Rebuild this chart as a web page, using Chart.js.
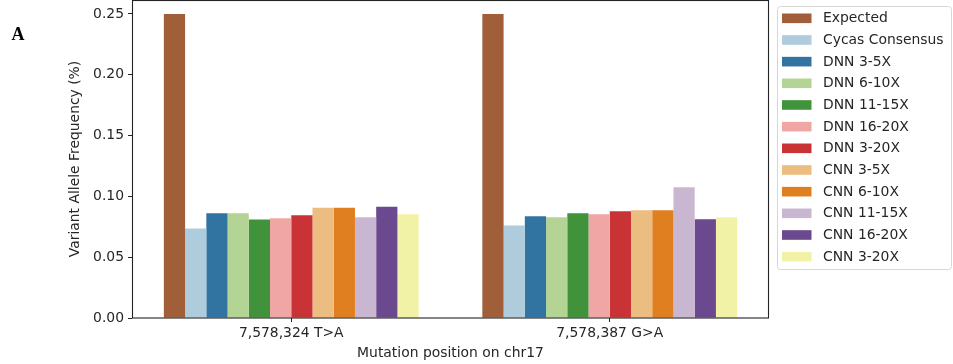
<!DOCTYPE html>
<html>
<head>
<meta charset="utf-8">
<script src="https://cdn.jsdelivr.net/npm/chart.js@4.4.1/dist/chart.umd.min.js"></script>
<style>
  html, body { margin: 0; padding: 0; background: #ffffff; }
  canvas { display: block; }
</style>
</head>
<body>
<canvas id="vafChart" width="953" height="364"></canvas>
<script>
// Mutation sites on chr17
const mutations = ['7,578,324 T>A', '7,578,387 G>A'];

// Caller / depth groups, in legend order
const seriesNames = [
  'Expected', 'Cycas Consensus',
  'DNN 3-5X', 'DNN 6-10X', 'DNN 11-15X', 'DNN 16-20X', 'DNN 3-20X',
  'CNN 3-5X', 'CNN 6-10X', 'CNN 11-15X', 'CNN 16-20X', 'CNN 3-20X'
];

// Variant allele frequency per mutation site
const expected       = [0.2500, 0.2500];
const cycasConsensus = [0.0736, 0.0760];
const dnn3to5        = [0.0862, 0.0837];
const dnn6to10       = [0.0862, 0.0829];
const dnn11to15      = [0.0810, 0.0862];
const dnn16to20      = [0.0821, 0.0854];
const dnn3to20       = [0.0845, 0.0878];
const cnn3to5        = [0.0906, 0.0887];
const cnn6to10       = [0.0906, 0.0887];
const cnn11to15      = [0.0829, 0.1076];
const cnn16to20      = [0.0914, 0.0812];
const cnn3to20       = [0.0854, 0.0829];

// Y axis tick values
const yTicks = [0.00, 0.05, 0.10, 0.15, 0.20, 0.25];

const seriesValues = [
  expected, cycasConsensus,
  dnn3to5, dnn6to10, dnn11to15, dnn16to20, dnn3to20,
  cnn3to5, cnn6to10, cnn11to15, cnn16to20, cnn3to20
];

// Desaturated "Paired" palette
const seriesColors = [
  '#a05e39', '#aeccdb', '#3274a1', '#b3d495', '#40923b', '#efa6a5',
  '#ca3335', '#ebbd81', '#df7f20', '#c9b7d2', '#6a498e', '#f2f2a6'
];

const FONT = 'DejaVu Sans';
const INK = '#262626';

// Axes frame (all four spines)
const framePlugin = {
  id: 'frame',
  afterDatasetsDraw(chart) {
    const { ctx, chartArea: a } = chart;
    ctx.save();
    ctx.strokeStyle = '#222222';
    ctx.lineWidth = 1.1;
    ctx.strokeRect(Math.round(a.left) + 0.5, Math.round(a.top) + 0.5,
                   Math.round(a.right - a.left) - 1, Math.round(a.bottom - a.top) - 0.5);
    ctx.restore();
  }
};

// Framed legend box to the right of the axes, built from the datasets
const boxedLegendPlugin = {
  id: 'boxedLegend',
  afterDraw(chart) {
    const { ctx } = chart;
    const boxX = 777.5, boxY = 6.5, boxW = 174, boxH = 263, r = 3;
    ctx.save();
    ctx.beginPath();
    ctx.moveTo(boxX + r, boxY);
    ctx.arcTo(boxX + boxW, boxY, boxX + boxW, boxY + boxH, r);
    ctx.arcTo(boxX + boxW, boxY + boxH, boxX, boxY + boxH, r);
    ctx.arcTo(boxX, boxY + boxH, boxX, boxY, r);
    ctx.arcTo(boxX, boxY, boxX + boxW, boxY, r);
    ctx.closePath();
    ctx.fillStyle = 'rgba(255,255,255,0.8)';
    ctx.fill();
    ctx.strokeStyle = '#d6d6d6';
    ctx.lineWidth = 1;
    ctx.stroke();

    ctx.font = '13.9px "' + FONT + '"';
    ctx.textBaseline = 'middle';
    ctx.textAlign = 'left';
    chart.data.datasets.forEach((ds, i) => {
      const cy = 18.3 + i * 21.67;
      ctx.fillStyle = ds.backgroundColor;
      ctx.fillRect(782, cy - 4.8, 29.5, 9.6);
      ctx.fillStyle = INK;
      ctx.fillText(ds.label, 823, cy + 0.5);
    });

    // Panel letter
    ctx.font = 'bold 18px "Liberation Serif"';
    ctx.textBaseline = 'alphabetic';
    ctx.fillStyle = '#000000';
    ctx.fillText('A', 11.5, 40);
    ctx.restore();
  }
};

new Chart(document.getElementById('vafChart'), {
  type: 'bar',
  data: {
    labels: mutations,
    datasets: seriesNames.map((name, i) => ({
      label: name,
      data: seriesValues[i],
      backgroundColor: seriesColors[i],
      borderWidth: 0,
      categoryPercentage: 0.8,
      barPercentage: 1.0
    }))
  },
  options: {
    responsive: false,
    animation: false,
    events: [],
    layout: { padding: { left: 0, top: 0, right: 184, bottom: 0 } },
    plugins: {
      legend: { display: false },
      tooltip: { enabled: false }
    },
    scales: {
      x: {
        offset: true,
        grid: { display: true, offset: false, drawOnChartArea: false, drawTicks: true,
                tickLength: 4, color: '#222222', lineWidth: 1 },
        border: { display: false },
        ticks: { color: INK, padding: 2.7, font: { family: FONT, size: 13.9 } },
        title: {
          display: true, text: 'Mutation position on chr17', color: INK,
          font: { family: FONT, size: 13.9 }, padding: { top: 0, bottom: 2.7 }
        },
        afterFit(scale) {
          scale.height = 46;
          scale.paddingLeft = 0;
          scale.paddingRight = 0;
        }
      },
      y: {
        min: 0,
        max: 0.2615,
        grid: { display: true, drawOnChartArea: false, drawTicks: true,
                tickLength: 4, color: '#222222', lineWidth: 1 },
        border: { display: false },
        afterBuildTicks(scale) {
          scale.ticks = yTicks.map(v => ({ value: v }));
        },
        ticks: {
          color: INK, padding: 4, font: { family: FONT, size: 13.9 },
          callback: (v) => Number(v).toFixed(2)
        },
        title: {
          display: true, text: 'Variant Allele Frequency (%)', color: INK,
          font: { family: FONT, size: 13.9 }, padding: { top: 66.7, bottom: 0 }
        },
        afterFit(scale) {
          scale.width = 132;
          scale.paddingTop = 0;
          scale.paddingBottom = 0;
        }
      }
    }
  },
  plugins: [framePlugin, boxedLegendPlugin]
});
</script>
</body>
</html>
